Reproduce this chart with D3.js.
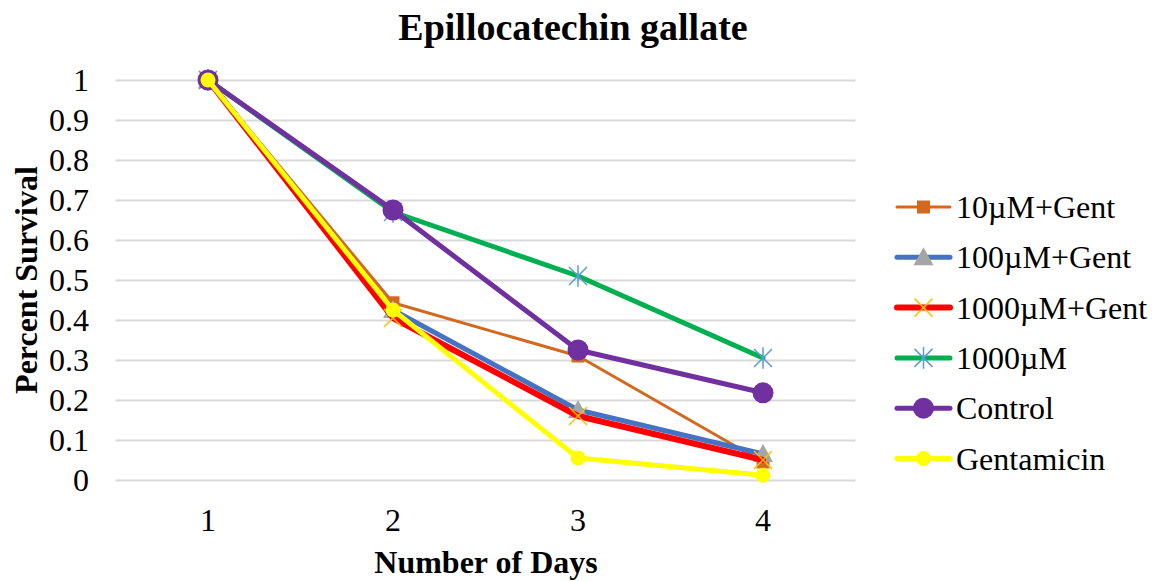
<!DOCTYPE html>
<html>
<head>
<meta charset="utf-8">
<script src="https://cdn.jsdelivr.net/npm/d3@7"></script>
<style>
body{margin:0;background:#fff;}
text{font-family:"Liberation Serif","Times New Roman",serif;fill:#000;}
</style>
</head>
<body>
<svg id="chart" width="1153" height="581"></svg>
<script>
var days = ["1","2","3","4"];
var yTicks = [0,0.1,0.2,0.3,0.4,0.5,0.6,0.7,0.8,0.9,1];
var names = ["10µM+Gent","100µM+Gent","1000µM+Gent","1000µM","Control","Gentamicin"];
var s10 = [1,0.443,0.31,0.045];
var s100 = [1,0.425,0.175,0.065];
var s1000g = [1,0.405,0.16,0.05];
var s1000 = [1,0.67,0.51,0.305];
var control = [1,0.675,0.325,0.218];
var gent = [1,0.425,0.055,0.012];

var series = [
  {name:names[0],vals:s10,color:"#D2691E",w:3,marker:"square",mfill:"#D2691E"},
  {name:names[1],vals:s100,color:"#4472C4",w:5,marker:"triangle",mfill:"#A5A5A5"},
  {name:names[2],vals:s1000g,color:"#FF0000",w:6,marker:"x",mfill:"#FFC000"},
  {name:names[3],vals:s1000,color:"#00B050",w:5,marker:"star",mfill:"#5B9BD5"},
  {name:names[4],vals:control,color:"#7030A0",w:5,marker:"circle",mfill:"#7030A0",r:10.5},
  {name:names[5],vals:gent,color:"#FFFF00",w:5,marker:"circle",mfill:"#FFFF00",r:7.5}
];

var svg = d3.select("#chart");
var x = d3.scaleBand().domain(days).range([115.5,855.5]);
var y = d3.scaleLinear().domain([0,1]).range([480,80]);

// gridlines
svg.append("g").selectAll("line").data(yTicks).enter().append("line")
  .attr("x1",115.5).attr("x2",855.5)
  .attr("y1",function(d){return Math.round(y(d))+0.5;})
  .attr("y2",function(d){return Math.round(y(d))+0.5;})
  .attr("stroke","#D9D9D9").attr("stroke-width",2);

// y tick labels
svg.append("g").selectAll("text").data(yTicks).enter().append("text")
  .attr("x",89).attr("y",function(d){return y(d)+10.5;})
  .attr("text-anchor","end").style("font-size","32px")
  .text(function(d){return d;});

// x tick labels
svg.append("g").selectAll("text").data(days).enter().append("text")
  .attr("x",function(d){return x(d)+x.bandwidth()/2;}).attr("y",531)
  .attr("text-anchor","middle").style("font-size","32px")
  .text(function(d){return d;});

svg.append("text").attr("x",573).attr("y",40).attr("text-anchor","middle")
  .style("font-size","38px").style("font-weight","bold").text("Epillocatechin gallate");
svg.append("text").attr("x",486).attr("y",573).attr("text-anchor","middle")
  .style("font-size","32px").style("font-weight","bold").text("Number of Days");
svg.append("text").attr("transform","translate(37,280) rotate(-90)").attr("text-anchor","middle")
  .style("font-size","32px").style("font-weight","bold").text("Percent Survival");

function drawMarker(g,s,cx,cy){
  if(s.marker=="square"){
    g.append("rect").attr("x",cx-6.5).attr("y",cy-6.5).attr("width",13).attr("height",13).attr("fill",s.mfill);
  } else if(s.marker=="triangle"){
    var h=10;
    g.append("path").attr("d","M"+cx+","+(cy-h)+"L"+(cx+h)+","+(cy+h*0.8)+"L"+(cx-h)+","+(cy+h*0.8)+"Z").attr("fill",s.mfill);
  } else if(s.marker=="x"){
    var k=9;
    g.append("path").attr("d","M"+(cx-k)+","+(cy-k)+"L"+(cx+k)+","+(cy+k)+"M"+(cx-k)+","+(cy+k)+"L"+(cx+k)+","+(cy-k))
      .attr("stroke",s.mfill).attr("stroke-width",1.5);
  } else if(s.marker=="star"){
    var k2=9;
    g.append("path").attr("d","M"+(cx-k2)+","+(cy-k2)+"L"+(cx+k2)+","+(cy+k2)+"M"+(cx-k2)+","+(cy+k2)+"L"+(cx+k2)+","+(cy-k2)+"M"+cx+","+(cy-k2*1.2)+"L"+cx+","+(cy+k2*1.2))
      .attr("stroke",s.mfill).attr("stroke-width",1.5);
  } else {
    g.append("circle").attr("cx",cx).attr("cy",cy).attr("r",s.r).attr("fill",s.mfill);
  }
}

var line = d3.line()
  .x(function(d,i){return x(days[i])+x.bandwidth()/2;})
  .y(function(d){return y(d);});

series.forEach(function(s){
  var g = svg.append("g");
  g.append("path").attr("d",line(s.vals)).attr("fill","none")
    .attr("stroke",s.color).attr("stroke-width",s.w).attr("stroke-linejoin","round").attr("stroke-linecap","round");
  s.vals.forEach(function(v,i){
    drawMarker(g,s,x(days[i])+x.bandwidth()/2,y(v));
  });
});

// legend
var legend = svg.append("g");
series.forEach(function(s,i){
  var ly = 207+i*50.3;
  var g = legend.append("g");
  g.append("line").attr("x1",897).attr("x2",950).attr("y1",ly).attr("y2",ly)
    .attr("stroke",s.color).attr("stroke-width",s.w).attr("stroke-linecap","round");
  drawMarker(g,s,923.5,ly);
  g.append("text").attr("x",956).attr("y",ly+11).style("font-size","32px").text(s.name);
});
</script>
</body>
</html>
